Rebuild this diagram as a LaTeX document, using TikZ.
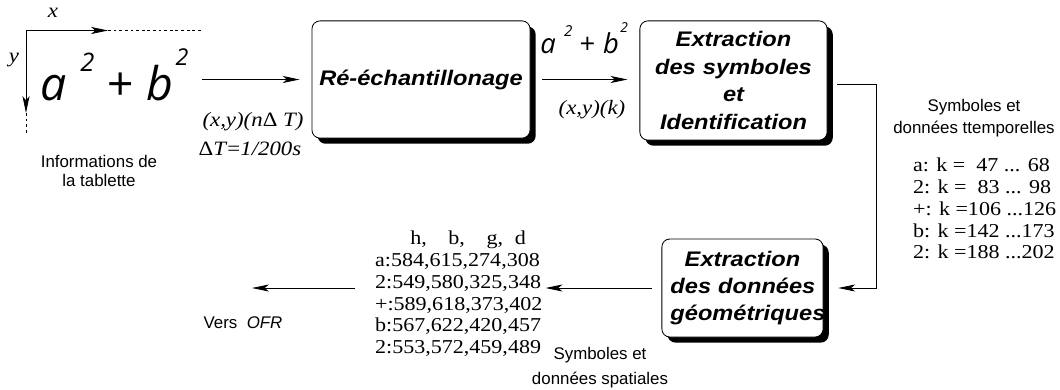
\documentclass[tikz,border=0pt]{standalone}
\usepackage{fontspec}
\setmainfont{Liberation Serif}[FakeStretch=1.12]
\setsansfont{Liberation Sans}
\newfontfamily\boxfont{Liberation Sans}[FakeStretch=1.12]
\newfontfamily\handfont{Open Sans}
\usetikzlibrary{arrows.meta, shadows}

% a^2 + b^2 ecrit a la main
\newcommand{\handab}{a\hspace{0.3em}\raisebox{0.62em}{\scalebox{0.55}{2}}\hspace{0.25em}+\hspace{0.3em}b\hspace{0.05em}\raisebox{0.75em}{\scalebox{0.5}{2}}}

\begin{document}
\begin{tikzpicture}[x=0.025cm, y=-0.025cm,
    stage/.style={draw, fill=white, rounded corners=0.2cm, line width=0.6pt,
        drop shadow={shadow xshift=4pt, shadow yshift=-4pt, fill=black, opacity=1},
        font=\boxfont\bfseries\itshape\fontsize{15}{19.5}\selectfont,
        align=center, inner sep=0pt},
    flow/.style={-{Stealth[length=12pt, width=5pt, inset=3pt]}, line width=0.6pt},
    lbl/.style={font=\sffamily\fontsize{12}{13}\selectfont, align=center},
    data/.style={font=\fontsize{14}{15.5}\selectfont, align=left, inner sep=2pt},
    math/.style={font=\itshape\fontsize{14.5}{16}\selectfont}]

\useasboundingbox (0,0) rectangle (1060,389);

% ---- TABLETTE (gauche) ----
\coordinate (orig) at (26,30.5);
\draw[flow] (orig) -- (108,30.5);
\draw[dashed, dash pattern=on 2pt off 2pt] (108,30.5) -- (203,30.5);
\draw[flow] (orig) -- (26,113);
\draw[dashed, dash pattern=on 2pt off 2pt] (26,113) -- (26,135);
\node[math] (xlab) at (53,13) {x};
\node[math] (ylab) at (14,60) {y};
\node[anchor=base west, inner sep=0pt, font=\handfont\itshape\fontsize{33}{33}\selectfont] (hand) at (40,100) {\handab};
\node[lbl] (info) at (99,171) {Informations de\\la tablette};

% ---- RE-ECHANTILLONAGE ----
\node[stage, minimum width=5.45cm, minimum height=2.93cm, text width=5.2cm] (resamp) at (421,79.5) {\mbox{Ré-échantillonage}};
\coordinate (penout) at (202,79.5);
\draw[flow] (penout) -- ([xshift=-8.5pt]resamp.west);
\node[math] (nlab) at (253,122) {(x,y)(n\textup{Δ} T)};
\node[math] (dlab) at (250,149) {\textup{Δ}T\textup{=}1/200s};

% ---- EXTRACTION DES SYMBOLES ----
\node[stage, minimum width=4.68cm, minimum height=2.98cm, text width=4.3cm] (symb) at (733.5,80.5) {Extraction\\des symboles\\et\\Identification};
\draw[flow] ([xshift=8.5pt]resamp.east) -- ([xshift=-8.5pt]symb.west |- resamp.east);
\node[anchor=base west, inner sep=0pt, font=\handfont\itshape\fontsize{19.5}{19.5}\selectfont] (handk) at (540,53) {\handab};
\node[math] (klab) at (592,110) {(x,y)(k)};

\node[lbl, font=\sffamily\fontsize{12}{15.5}\selectfont] (tempo) at (974,118) {Symboles et\\données ttemporelles};
\node[data, anchor=north west] (klist) at (910,155) {a: k = \ 47 ... 68\\2: k = \ 83 ... 98\\+: k =106 ...126\\b: k =142 ...173\\2: k =188 ...202};

% ---- EXTRACTION DES DONNEES GEOMETRIQUES ----
\node[stage, minimum width=4.03cm, minimum height=2.45cm, text width=3.6cm] (geom) at (742.5,288) {Extraction\\\mbox{des données}\\\mbox{géométriques}};
\coordinate (turn) at (876,0);
\draw[flow] ([shift={(7pt,-3pt)}]symb.east) -- ([yshift=-3pt]symb.east -| turn) |- ([xshift=10.5pt]geom.east);

\node[data, anchor=north west] (coords) at (372,228) {\hspace*{25pt}h,\hspace{1.1em}b,\hspace{1.1em}g,\hspace{0.6em}d\\a:584,615,274,308\\2:549,580,325,348\\+:589,618,373,402\\b:567,622,420,457\\2:553,572,459,489};
\draw[flow] ([xshift=-7pt]geom.west) -- (geom.west -| coords.east);
\node[lbl, font=\sffamily\fontsize{12}{17.7}\selectfont] (spat) at (600,367.5) {Symboles et\\données spatiales};

% ---- VERS OFR ----
\coordinate (ofr) at (252,288);
\draw[flow] ([xshift=-12pt]coords.west |- ofr) -- (ofr);
\node[lbl] (vers) at (243,323) {Vers\ \ \textit{OFR}};

\end{tikzpicture}
\end{document}
